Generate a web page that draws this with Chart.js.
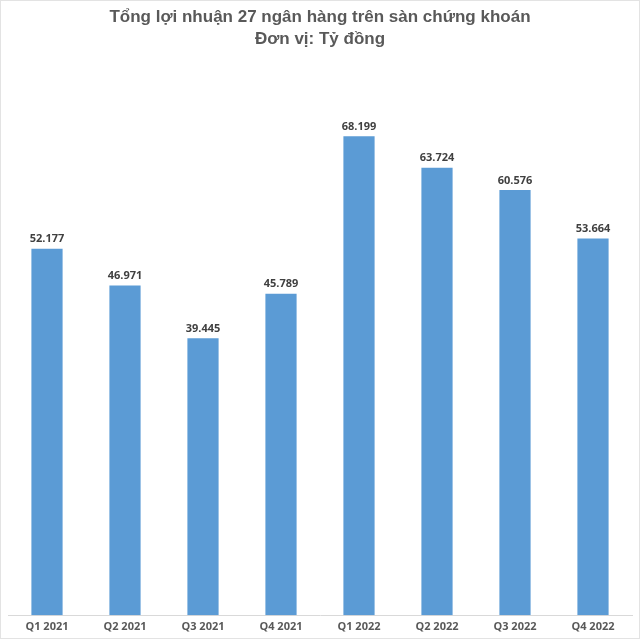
<!DOCTYPE html>
<html>
<head>
<meta charset="utf-8">
<script src="https://cdn.jsdelivr.net/npm/chart.js@4.4.0/dist/chart.umd.min.js"></script>
<style>
  html, body { margin: 0; padding: 0; background: #fff; }
  #wrap { position: relative; width: 640px; height: 639px; box-sizing: border-box; border: 1px solid #e3e3e3; }
</style>
</head>
<body>
<div id="wrap"><canvas id="profitChart"></canvas></div>
<script>
// quarterly data
const quarters = ['Q1 2021', 'Q2 2021', 'Q3 2021', 'Q4 2021', 'Q1 2022', 'Q2 2022', 'Q3 2022', 'Q4 2022'];
const profits = [52.177, 46.971, 39.445, 45.789, 68.199, 63.724, 60.576, 53.664];
const valueLabels = ['52.177', '46.971', '39.445', '45.789', '68.199', '63.724', '60.576', '53.664'];
const titleLines = ['Tổng lợi nhuận 27 ngân hàng trên sàn chứng khoán', 'Đơn vị: Tỷ đồng'];

//draw the number over each bar
const barLabels = {
    id: 'barLabels',
    afterDatasetsDraw(chart) {
        const ctx = chart.ctx;
        const meta = chart.getDatasetMeta(0);
        ctx.save();
        ctx.font = 'bold 11px "Open Sans", sans-serif';
        ctx.fillStyle = '#404040';
        ctx.textAlign = 'center';
        ctx.textBaseline = 'bottom';
        meta.data.forEach((bar, i) => {
            ctx.fillText(valueLabels[i], bar.x, bar.y - 4);
        });
        ctx.restore();
    }
};

new Chart(document.getElementById('profitChart'), {
    type: 'bar',
    data: {
        labels: quarters,
        datasets: [{
            data: profits,
            backgroundColor: '#5b9bd5',
            categoryPercentage: 0.8,
            barPercentage: 0.5
        }]
    },
    options: {
        responsive: true,
        maintainAspectRatio: false,
        animation: false,
        layout: { padding: { left: 7, right: 7, top: 0, bottom: 0 } },
        scales: {
            y: { display: false, min: 0, max: 80 },
            x: {
                grid: { display: false, drawTicks: false },
                border: { display: true, color: '#d9d9d9', width: 1 },
                ticks: {
                    color: '#595959',
                    padding: 7,
                    font: { family: '"Open Sans", sans-serif', size: 11, weight: 'bold', lineHeight: 0.8 }
                }
            }
        },
        plugins: {
            legend: { display: false },
            tooltip: { enabled: false },
            title: {
                display: true,
                text: titleLines,
                color: '#595959',
                font: { family: '"Liberation Sans", Arial, sans-serif', size: 17, weight: 'bold', lineHeight: 1.25 },
                padding: { top: 6, bottom: 4 }
            }
        }
    },
    plugins: [barLabels]
});
</script>
</body>
</html>
